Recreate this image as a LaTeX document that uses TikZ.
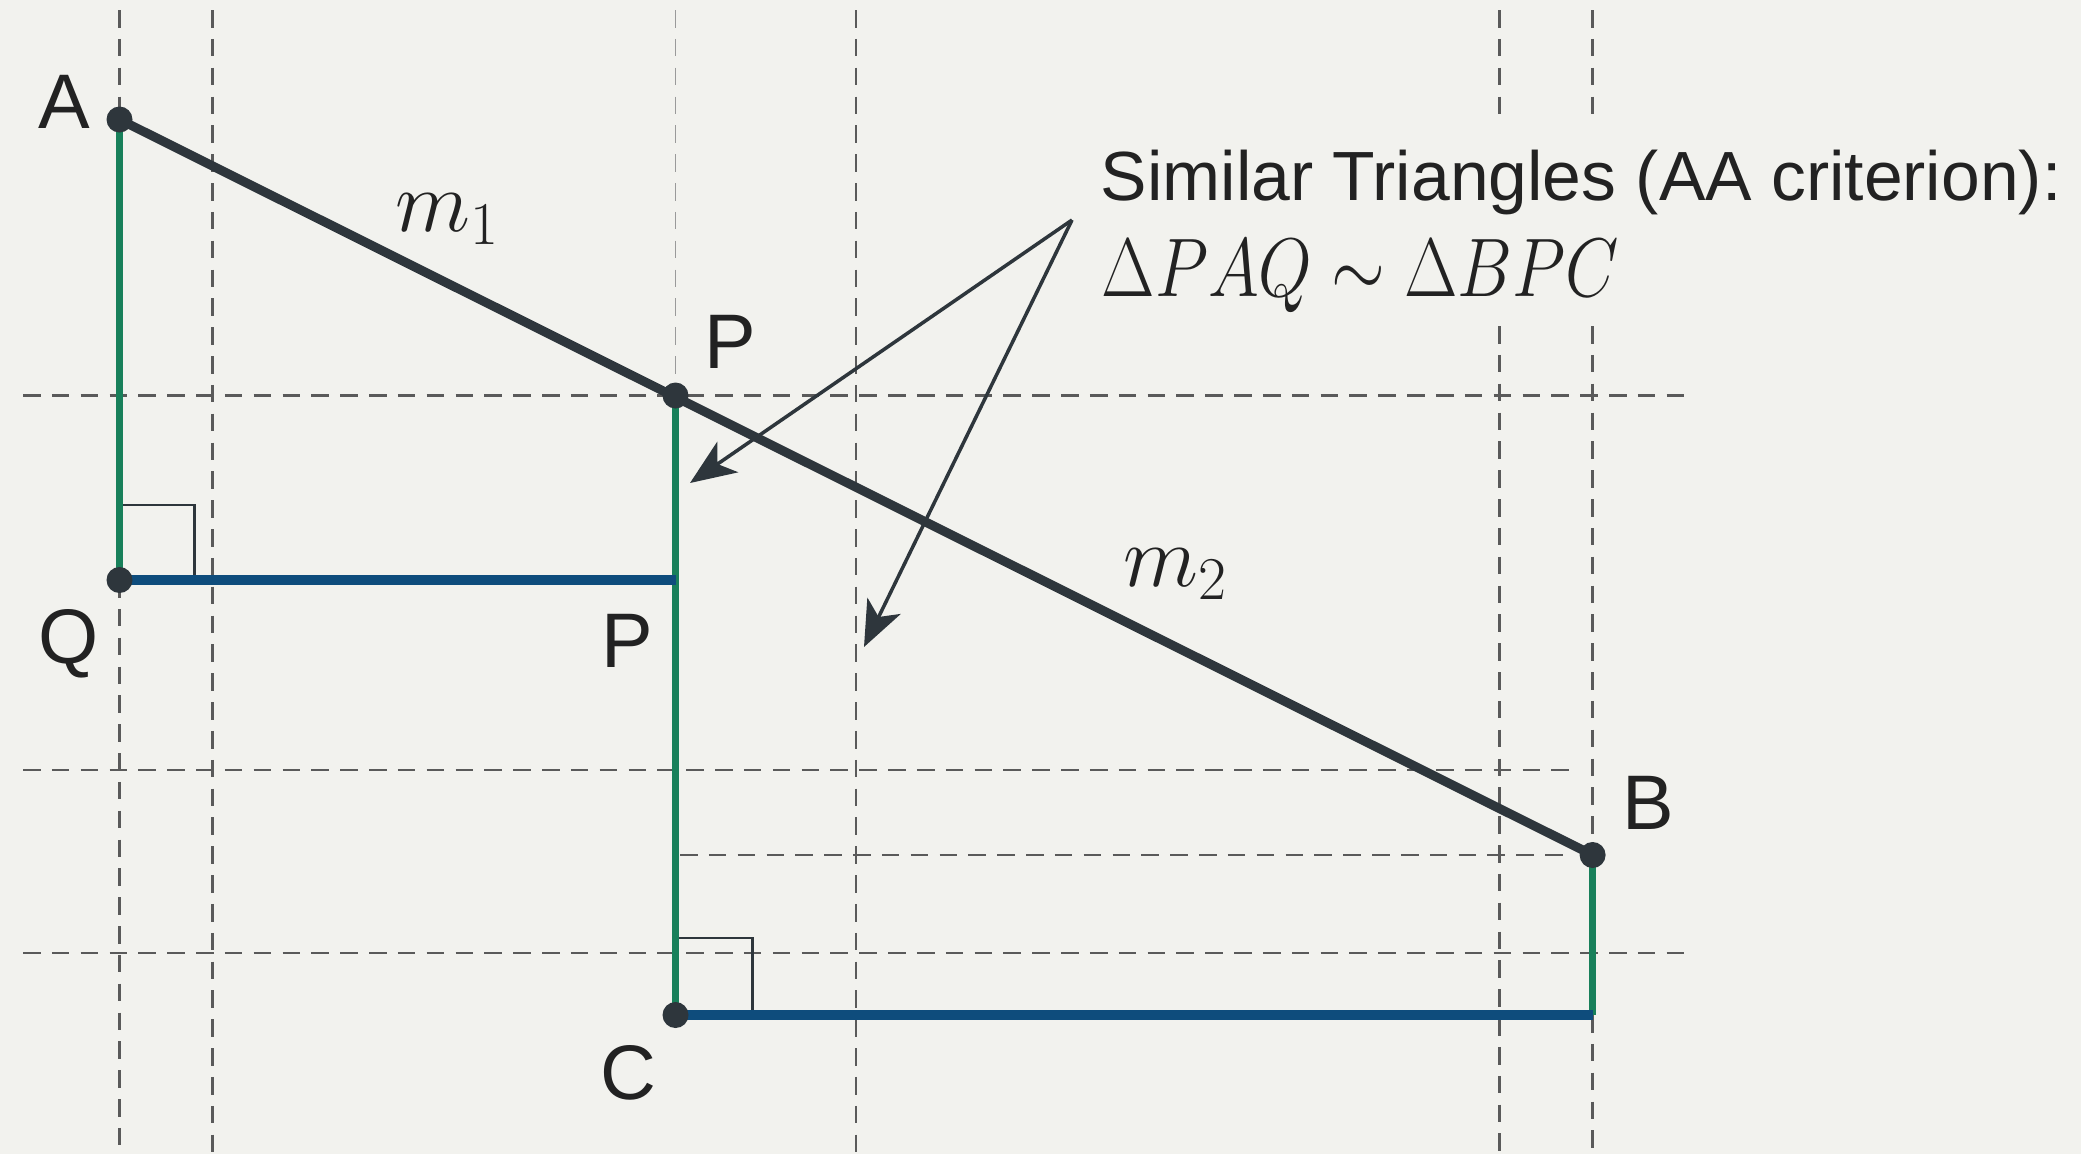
\documentclass[tikz,border=0pt]{standalone}
\usepackage{fontspec}
\setmainfont{Liberation Sans}
\usetikzlibrary{arrows.meta,calc}
\definecolor{bg}{HTML}{F2F2EE}
\definecolor{darkline}{HTML}{2E363C}
\definecolor{greenline}{HTML}{18805A}
\definecolor{blueline}{HTML}{0E4C7C}
\definecolor{gridgray}{HTML}{5A5A5A}
\definecolor{lightgrid}{HTML}{9A9A9A}
\definecolor{txt}{HTML}{222222}
\begin{document}
\begin{tikzpicture}[x=0.01cm,y=-0.01cm,
  gridline/.style={draw=gridgray, line width=0.8pt, dash pattern=on 5pt off 3.2pt},
  lightgridline/.style={draw=lightgrid, line width=0.55pt, dash pattern=on 5pt off 3.2pt},
  greenseg/.style={draw=greenline, line width=2.1pt},
  blueseg/.style={draw=blueline, line width=2.7pt},
  mainseg/.style={draw=darkline, line width=2.6pt, line cap=round},
  rightmark/.style={draw=darkline, line width=0.7pt},
  pointlabel/.style={text=txt, font=\fontsize{22}{26}\selectfont, inner sep=0pt},
  mlabel/.style={text=txt, font=\fontsize{23}{27}\selectfont, inner sep=0pt},
  callout/.style={draw=darkline, line width=1pt, -{Stealth[length=13pt,width=10.5pt,inset=3.5pt]}},
  dot/.style={fill=darkline}]
\fill[bg] (0,0) rectangle (2081,1154);
\useasboundingbox (0,0) rectangle (2081,1154);

% main points
\coordinate (A) at (119.5,119.5);
\coordinate (P) at (675.5,395.5);
\coordinate (Q) at (119.5,580);
\coordinate (Pf) at (675.5,580);
\coordinate (C) at (675.5,1015);
\coordinate (B) at (1592.6,855);
\coordinate (D) at (1592.6,1015);

% grid end points
\coordinate (v1t) at (119.5,10);   \coordinate (v1b) at (119.5,1154);
\coordinate (v2t) at (212.4,10);   \coordinate (v2b) at (212.4,1154);
\coordinate (v3t) at (675.5,10);
\coordinate (v4t) at (856,10);     \coordinate (v4b) at (856,1154);
\coordinate (v5t) at (1499.7,10);  \coordinate (v5m) at (1499.7,116);
\coordinate (v5n) at (1499.7,326); \coordinate (v5b) at (1499.7,1154);
\coordinate (v6t) at (1592.6,10);  \coordinate (v6m) at (1592.6,116);
\coordinate (v6n) at (1592.6,326); \coordinate (v6b) at (1592.6,1154);
\coordinate (h1l) at (23,395.5);   \coordinate (h1r) at (1690,395.5);
\coordinate (h2l) at (23,770);     \coordinate (h2r) at (1573,770);
\coordinate (h3l) at (680,855);    \coordinate (h3r) at (1573,855);
\coordinate (h4l) at (23,953);     \coordinate (h4r) at (1688,953);

% dashed grid
\draw[gridline] (v1t) -- (A);
\draw[gridline] (Q) -- (v1b);
\draw[gridline] (v2t) -- (v2b);
\draw[lightgridline] (v3t) -- (P);
\draw[gridline] (v4t) -- (v4b);
\draw[gridline] (v5t) -- (v5m);
\draw[gridline] (v5n) -- (v5b);
\draw[gridline] (v6t) -- (v6m);
\draw[gridline] (v6n) -- (B);
\draw[gridline] (D) -- (v6b);
\draw[gridline] (h1l) -- (h1r);
\draw[gridline] (h2l) -- (h2r);
\draw[gridline] (h3l) -- (h3r);
\draw[gridline] (h4l) -- (h4r);

% right angle marks
\draw[rightmark] ($(Q)+(0,-75)$) -- ($(Q)+(75,-75)$) -- ($(Q)+(75,0)$);
\draw[rightmark] ($(C)+(0,-77)$) -- ($(C)+(77,-77)$) -- ($(C)+(77,0)$);

% triangle legs
\draw[greenseg] (A) -- (Q);
\draw[greenseg] (P) -- (C);
\draw[greenseg] (B) -- (D);
\draw[blueseg] (Q) -- (Pf);
\draw[blueseg] (C) -- (D);

% main line
\draw[mainseg] (A) -- (B);

% dots
\fill[dot] (A) circle (13);
\fill[dot] (P) circle (13);
\fill[dot] (Q) circle (13);
\fill[dot] (C) circle (13);
\fill[dot] (B) circle (13);

% callout arrows
\coordinate (apex) at (1072,220);
\coordinate (t1) at (690,483);
\coordinate (t2) at (864,647);
\draw[callout] (apex) -- (t1);
\draw[callout] (apex) -- (t2);

% labels
\node[pointlabel] (lA) at (64,102) {A};
\node[pointlabel] (lP) at (730,342) {P};
\node[pointlabel] (lP2) at (627,641) {P};
\node[pointlabel] (lQ) at (69,644) {Q};
\node[pointlabel] (lC) at (628,1073) {C};
\node[pointlabel] (lB) at (1648,803) {B};
\node[mlabel] (m1) at (448,219) {$m_1$};
\node[mlabel] (m2) at (1176,574) {$m_2$};

\node[anchor=base west, inner sep=0pt, text=txt, font=\fontsize{19.8}{23}\selectfont] (title) at (1100,200) {Similar Triangles (AA criterion):};
\node[anchor=base west, inner sep=0pt, text=txt, font=\fontsize{24.88}{29}\selectfont] (sim) at (1101,296) {\scalebox{0.79}[0.95]{$\Delta PAQ\sim\Delta BPC$}};
\end{tikzpicture}
\end{document}
